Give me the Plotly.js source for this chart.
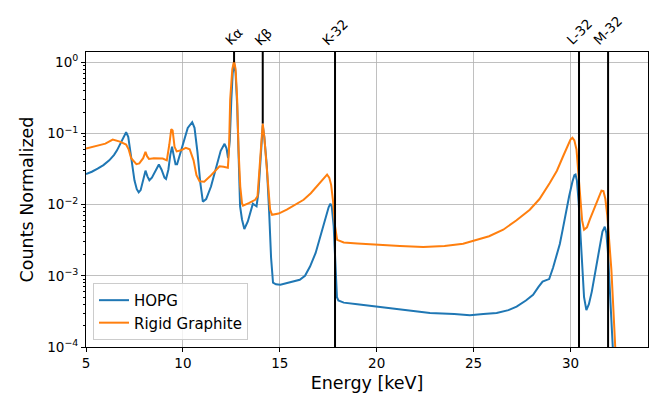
<!DOCTYPE html>
<html>
<head>
<meta charset="utf-8">
<script src="https://cdn.plot.ly/plotly-3.0.1.min.js"></script>
<style>html,body{margin:0;padding:0;background:#fff;}#chart{width:664px;height:413px;}</style>
</head>
<body>
<div id="chart"></div>
<script>
// HOPG series (energy keV, normalized counts)
const hopgEnergy = [5, 5.3, 5.6, 5.9, 6.2, 6.45, 6.6, 6.75, 6.9, 7.07, 7.18, 7.28, 7.38, 7.5, 7.62, 7.72, 7.82, 7.95, 8.07, 8.17, 8.27, 8.4, 8.6, 8.76, 8.9, 9.05, 9.13, 9.25, 9.35, 9.44, 9.52, 9.62, 9.7, 9.85, 10.05, 10.25, 10.48, 10.6, 10.75, 10.9, 11.03, 11.2, 11.45, 11.7, 11.95, 12.15, 12.25, 12.33, 12.42, 12.5, 12.57, 12.64, 12.72, 12.8, 12.88, 12.95, 13.05, 13.17, 13.35, 13.5, 13.61, 13.72, 13.8, 13.9, 14.0, 14.07, 14.12, 14.2, 14.33, 14.45, 14.55, 14.65, 14.8, 15.03, 15.5, 16.03, 16.3, 16.56, 16.85, 17.08, 17.25, 17.39, 17.52, 17.61, 17.68, 17.78, 17.88, 17.95, 18.02, 18.3, 19.0, 20, 21.5, 22.75, 24.0, 24.81, 25.5, 26.19, 26.8, 27.22, 27.7, 28.07, 28.35, 28.56, 28.75, 28.9, 29.1, 29.3, 29.45, 29.6, 29.75, 29.93, 30.1, 30.2, 30.26, 30.33, 30.42, 30.5, 30.6, 30.7, 30.82, 30.95, 31.1, 31.3, 31.5, 31.65, 31.77, 31.85, 31.93, 32.0, 32.1, 32.2];
const hopgCounts = [0.027, 0.029, 0.032, 0.036, 0.042, 0.05, 0.058, 0.07, 0.088, 0.104, 0.09, 0.06, 0.036, 0.022, 0.0165, 0.0149, 0.016, 0.022, 0.030, 0.025, 0.022, 0.024, 0.031, 0.0366, 0.031, 0.024, 0.023, 0.031, 0.05, 0.065, 0.05, 0.037, 0.037, 0.05, 0.08, 0.12, 0.144, 0.12, 0.055, 0.02, 0.011, 0.012, 0.018, 0.032, 0.057, 0.0716, 0.062, 0.045, 0.08, 0.3, 0.7, 1.0, 0.7, 0.25, 0.05, 0.0095, 0.0062, 0.00455, 0.0058, 0.0085, 0.0103, 0.0098, 0.0095, 0.015, 0.045, 0.1, 0.13, 0.09, 0.035, 0.008, 0.0018, 0.0008, 0.00076, 0.00075, 0.0008, 0.00088, 0.001, 0.00135, 0.0021, 0.0036, 0.005, 0.0068, 0.0092, 0.0103, 0.0095, 0.005, 0.0012, 0.0005, 0.00045, 0.00042, 0.0004, 0.00037, 0.00033, 0.0003, 0.00029, 0.00028, 0.00029, 0.0003, 0.00033, 0.00037, 0.00045, 0.00054, 0.0007, 0.00083, 0.00087, 0.0009, 0.0013, 0.002, 0.0028, 0.0045, 0.0075, 0.0131, 0.021, 0.026, 0.0265, 0.022, 0.011, 0.004, 0.0012, 0.0005, 0.00033, 0.0004, 0.0006, 0.0012, 0.0026, 0.0042, 0.0049, 0.004, 0.0022, 0.0009, 0.00024, 0.00008];

// Rigid Graphite series
const rigidEnergy = [5, 5.5, 6.0, 6.38, 6.55, 6.75, 7.07, 7.2, 7.33, 7.45, 7.6, 7.75, 7.95, 8.07, 8.15, 8.25, 8.5, 8.96, 9.17, 9.3, 9.4, 9.47, 9.57, 9.68, 9.9, 10.15, 10.35, 10.55, 10.7, 10.86, 11.1, 11.4, 11.7, 11.89, 12.1, 12.32, 12.38, 12.44, 12.55, 12.64, 12.72, 12.8, 12.87, 12.96, 13.05, 13.1, 13.4, 13.73, 13.85, 13.95, 14.02, 14.12, 14.2, 14.33, 14.5, 14.6, 14.94, 15.36, 15.8, 16.23, 16.6, 16.9, 17.2, 17.44, 17.55, 17.65, 17.75, 17.85, 17.96, 18.3, 19.0, 20, 21.2, 22.4, 23.5, 24.46, 25, 25.8, 26.53, 27.2, 27.9, 28.4, 28.93, 29.3, 29.62, 29.85, 30.0, 30.1, 30.2, 30.31, 30.4, 30.5, 30.6, 30.7, 30.85, 31.0, 31.2, 31.4, 31.6, 31.7, 31.8, 31.9, 32.0, 32.11, 32.2, 32.28, 32.35];
const rigidCounts = [0.0615, 0.066, 0.072, 0.082, 0.08, 0.077, 0.070, 0.06, 0.045, 0.041, 0.037, 0.038, 0.045, 0.055, 0.048, 0.044, 0.045, 0.0445, 0.042, 0.07, 0.115, 0.11, 0.065, 0.056, 0.058, 0.063, 0.06, 0.042, 0.026, 0.0213, 0.021, 0.025, 0.031, 0.0347, 0.034, 0.033, 0.06, 0.3, 0.8, 1.04, 0.8, 0.3, 0.06, 0.018, 0.0105, 0.0097, 0.0105, 0.0117, 0.0131, 0.035, 0.074, 0.138, 0.09, 0.035, 0.0085, 0.0072, 0.0075, 0.0085, 0.01, 0.0117, 0.0145, 0.018, 0.022, 0.0265, 0.024, 0.019, 0.011, 0.005, 0.0032, 0.00294, 0.00285, 0.00273, 0.00262, 0.00254, 0.00262, 0.00282, 0.00311, 0.0036, 0.00445, 0.006, 0.0085, 0.012, 0.0202, 0.03, 0.0479, 0.068, 0.082, 0.087, 0.08, 0.0596, 0.03, 0.012, 0.006, 0.00445, 0.0048, 0.0062, 0.0085, 0.012, 0.0157, 0.0155, 0.012, 0.007, 0.003, 0.00122, 0.0004, 0.00014, 0.00006];

// Marked emission lines: energy, label, and the count level where each marker line ends
const lineEnergies = [12.64, 14.12, 17.85, 30.44, 31.94];
const lineLabels = ["Kα", "Kβ", "K-32", "L-32", "M-32"];
const lineBottoms = [1.0, 0.138, 0.0001, 0.0001, 0.0001];

// Axis ticks and range
const xTickVals = [5, 10, 15, 20, 25, 30];
const xRange = [5, 34];
const yLogRange = [-4, 0.145];
const yTickVals = [1, 0.1, 0.01, 0.001, 0.0001];
const yTickText = ["10<sup>0</sup>", "10<sup>−1</sup>", "10<sup>−2</sup>", "10<sup>−3</sup>", "10<sup>−4</sup>"];

const minorVals = [];
for (let k = -4; k <= 0; k++) {
  for (let m = 2; m <= 9; m++) minorVals.push(m * Math.pow(10, k));
}

const font = "DejaVu Sans, Liberation Sans, sans-serif";

const traces = [
  {x: hopgEnergy, y: hopgCounts, name: "HOPG", mode: "lines",
   line: {color: "#1f77b4", width: 2}},
  {x: rigidEnergy, y: rigidCounts, name: "Rigid Graphite", mode: "lines",
   line: {color: "#ff7f0e", width: 2}}
];

const toPaper = v => Math.max(0, (Math.log10(v) - yLogRange[0]) / (yLogRange[1] - yLogRange[0]));

const shapes = lineEnergies.map((e, i) => ({
  type: "line", xref: "x", yref: "paper", x0: e, x1: e, y0: toPaper(lineBottoms[i]), y1: 1,
  line: {color: "#000", width: 2}, layer: "above"
}));

const annotations = lineEnergies.map((e, i) => ({
  x: e, y: 1, xref: "x", yref: "paper", text: lineLabels[i],
  showarrow: false, textangle: -45, xanchor: "center", yanchor: "bottom",
  yshift: 1, font: {family: font, size: 13.5, color: "#000"}
}));

const layout = {
  width: 664, height: 413,
  margin: {l: 86, r: 16, t: 52, b: 66},
  paper_bgcolor: "#fff", plot_bgcolor: "#fff",
  font: {family: font, size: 13, color: "#000"},
  showlegend: true,
  legend: {x: 0.0125, y: 0.024, xanchor: "left", yanchor: "bottom",
           bgcolor: "rgba(255,255,255,0.8)", bordercolor: "#cccccc", borderwidth: 1,
           font: {family: font, size: 15}, tracegroupgap: 0},
  xaxis: {
    range: xRange, tickvals: xTickVals, ticks: "outside", ticklen: 4, tickwidth: 1,
    tickcolor: "#000", showline: true, linecolor: "#000", linewidth: 1, mirror: true,
    showgrid: true, gridcolor: "#b0b0b0", gridwidth: 0.8, zeroline: false,
    tickfont: {family: font, size: 13.5},
    title: {text: "Energy [keV]", font: {family: font, size: 17.5}, standoff: 6}
  },
  yaxis: {
    type: "log", range: yLogRange, tickvals: yTickVals, ticktext: yTickText,
    ticks: "outside", ticklen: 4, tickwidth: 1, tickcolor: "#000",
    showline: true, linecolor: "#000", linewidth: 1, mirror: true,
    showgrid: true, gridcolor: "#b0b0b0", gridwidth: 0.8, zeroline: false,
    tickfont: {family: font, size: 13.5},
    minor: {tickmode: "array", tickvals: minorVals, ticks: "outside", ticklen: 2,
            tickcolor: "#000", showgrid: false},
    title: {text: "Counts Normalized", font: {family: font, size: 17.5}, standoff: 9}
  },
  shapes: shapes,
  annotations: annotations
};

Plotly.newPlot("chart", traces, layout, {staticPlot: true, displayModeBar: false});
</script>
</body>
</html>
